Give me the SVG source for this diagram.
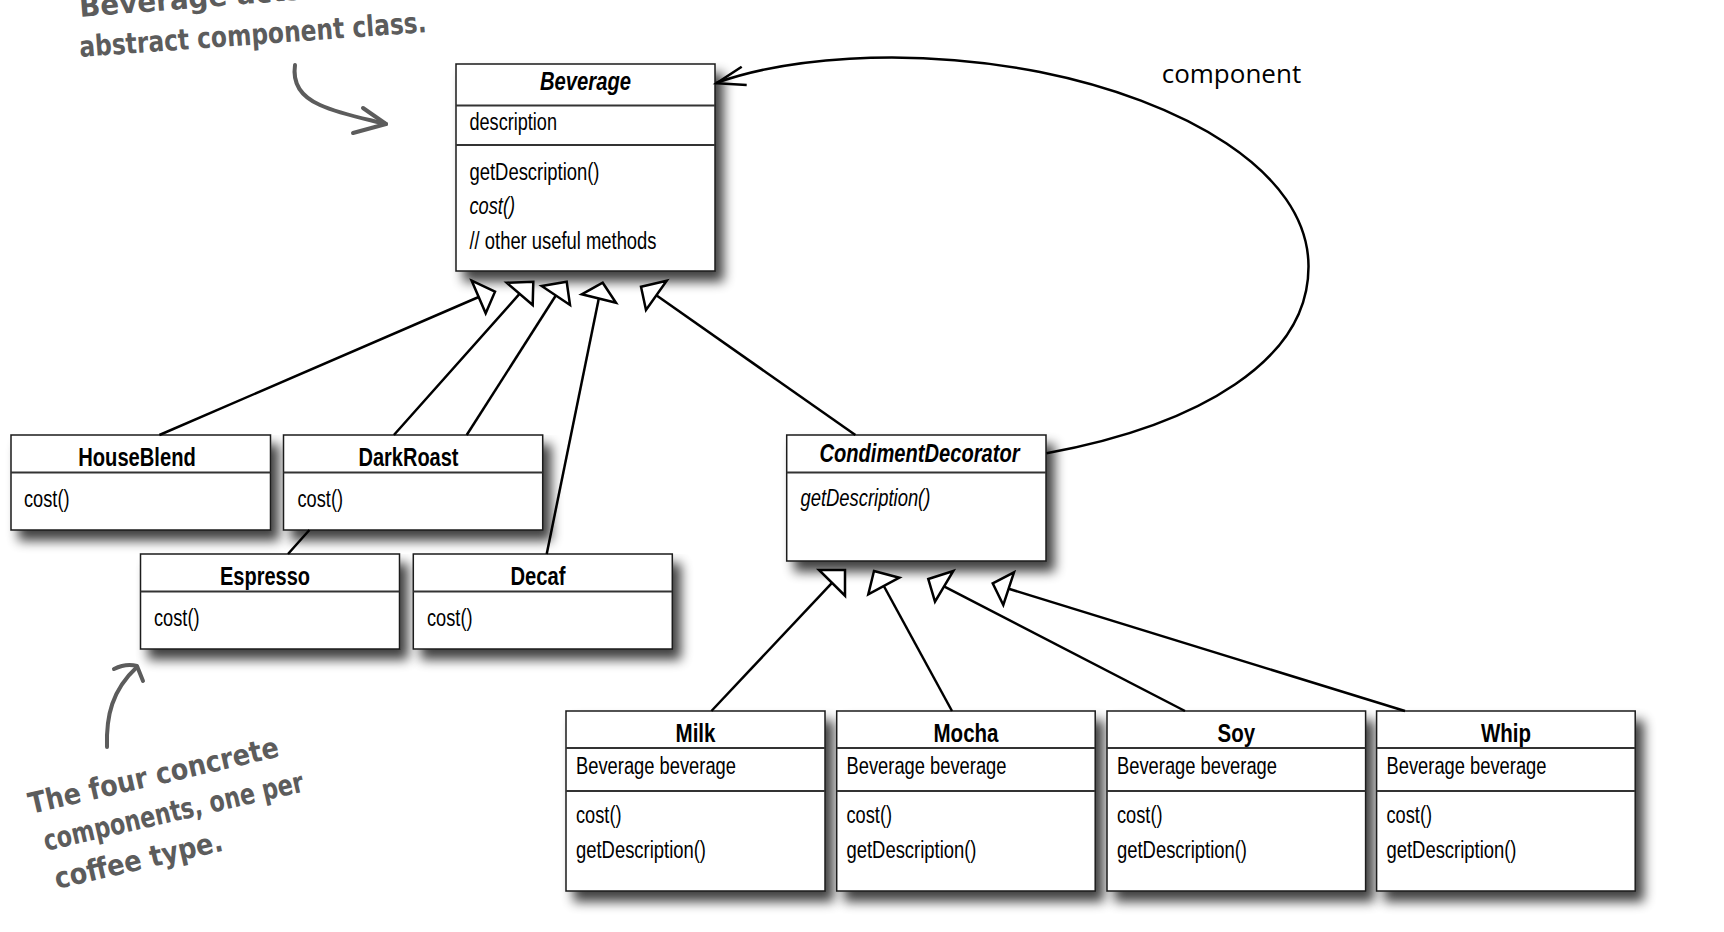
<svg xmlns="http://www.w3.org/2000/svg" width="1724" height="932" viewBox="0 0 1724 932">
<style>
.box{fill:#fff;stroke:#1a1a1a;stroke-width:1.5}
.div{stroke:#333;stroke-width:2;fill:none}
.t{font-family:"Liberation Sans",Arial,sans-serif;font-size:23.5px;fill:#000}
.h{font-family:"Liberation Sans",Arial,sans-serif;font-size:25.5px;font-weight:bold;fill:#000;text-anchor:middle}
.i{font-style:italic}
.ln{stroke:#000;stroke-width:2.5;fill:none}
.tri{fill:#fff;stroke:#000;stroke-width:2.5;stroke-linejoin:miter}
.hand{font-family:"DejaVu Sans",sans-serif;font-weight:bold;fill:#5c5c5c;font-size:29px}
.hl{stroke:#5c5c5c;stroke-width:4;fill:none;stroke-linecap:round;stroke-linejoin:round}
</style>
<defs>
<filter id="sh" x="-10%" y="-10%" width="130%" height="140%">
<feGaussianBlur in="SourceAlpha" stdDeviation="6"/>
<feOffset dx="8" dy="10"/>
<feComponentTransfer><feFuncA type="linear" slope="0.75"/></feComponentTransfer>
<feMerge><feMergeNode/><feMergeNode in="SourceGraphic"/></feMerge>
</filter>
</defs>

<g id="annotations">
<text class="hand" transform="translate(80,17) rotate(-4.5)" textLength="330" lengthAdjust="spacingAndGlyphs">Beverage acts as our</text>
<text class="hand" transform="translate(80,57) rotate(-4.1)" textLength="348" lengthAdjust="spacingAndGlyphs">abstract component class.</text>
<path class="hl" d="M295,65 C292,86 304,98 320,105 C340,114 362,118 386,124"/>
<path class="hl" d="M363,108 L386,124 L353,133"/>
<text class="hand" transform="translate(31,814) rotate(-13)" textLength="256" lengthAdjust="spacingAndGlyphs">The four concrete</text>
<text class="hand" transform="translate(46,851) rotate(-13)" textLength="266" lengthAdjust="spacingAndGlyphs">components, one per</text>
<text class="hand" transform="translate(57,889) rotate(-13)" textLength="172" lengthAdjust="spacingAndGlyphs">coffee type.</text>
<path class="hl" d="M107,747 C106,716 112,690 137,667"/>
<path class="hl" d="M114,669 Q126,663 137,666 L143,681"/>
</g>

<g id="Beverage">
<rect class="box" x="456" y="64" width="259" height="207" filter="url(#sh)"/>
<line class="div" x1="456" y1="105.5" x2="715" y2="105.5"/>
<line class="div" x1="456" y1="145" x2="715" y2="145"/>
<text class="h i" x="585.5" y="90" textLength="91" lengthAdjust="spacingAndGlyphs">Beverage</text>
<text class="t" x="469.5" y="130" textLength="87.5" lengthAdjust="spacingAndGlyphs">description</text>
<text class="t" x="469.5" y="180" textLength="130" lengthAdjust="spacingAndGlyphs">getDescription()</text>
<text class="t i" x="469.5" y="214" textLength="45.5" lengthAdjust="spacingAndGlyphs">cost()</text>
<text class="t" x="469.5" y="249" textLength="187" lengthAdjust="spacingAndGlyphs">// other useful methods</text>
</g>

<g id="HouseBlend">
<rect class="box" x="11" y="435" width="259.5" height="95" filter="url(#sh)"/>
<line class="div" x1="11" y1="472.5" x2="270.5" y2="472.5"/>
<text class="h" x="137" y="466" textLength="117.5" lengthAdjust="spacingAndGlyphs">HouseBlend</text>
<text class="t" x="24" y="507" textLength="45.5" lengthAdjust="spacingAndGlyphs">cost()</text>
</g>

<g id="DarkRoast">
<rect class="box" x="283.5" y="435" width="259.2" height="95" filter="url(#sh)"/>
<line class="div" x1="283.5" y1="472.5" x2="542.7" y2="472.5"/>
<text class="h" x="408.5" y="466" textLength="100" lengthAdjust="spacingAndGlyphs">DarkRoast</text>
<text class="t" x="297.5" y="507" textLength="45.5" lengthAdjust="spacingAndGlyphs">cost()</text>
</g>

<g id="Espresso">
<rect class="box" x="140.5" y="554" width="259" height="95" filter="url(#sh)"/>
<line class="div" x1="140.5" y1="591.5" x2="399.5" y2="591.5"/>
<text class="h" x="265" y="585" textLength="90" lengthAdjust="spacingAndGlyphs">Espresso</text>
<text class="t" x="154" y="626" textLength="45.5" lengthAdjust="spacingAndGlyphs">cost()</text>
</g>

<g id="Decaf">
<rect class="box" x="413.3" y="554" width="259" height="95" filter="url(#sh)"/>
<line class="div" x1="413.3" y1="591.5" x2="672.3" y2="591.5"/>
<text class="h" x="538" y="585" textLength="55" lengthAdjust="spacingAndGlyphs">Decaf</text>
<text class="t" x="427" y="626" textLength="45.5" lengthAdjust="spacingAndGlyphs">cost()</text>
</g>

<g id="CondimentDecorator">
<rect class="box" x="786.7" y="435" width="259.3" height="126" filter="url(#sh)"/>
<line class="div" x1="786.7" y1="472.5" x2="1046" y2="472.5"/>
<text class="h i" x="919.5" y="462" textLength="200" lengthAdjust="spacingAndGlyphs">CondimentDecorator</text>
<text class="t i" x="800.4" y="506" textLength="130" lengthAdjust="spacingAndGlyphs">getDescription()</text>
</g>

<g id="Milk">
<rect class="box" x="566" y="711" width="259" height="180" filter="url(#sh)"/>
<line class="div" x1="566" y1="748" x2="825" y2="748"/>
<line class="div" x1="566" y1="791" x2="825" y2="791"/>
<text class="h" x="695.5" y="742" textLength="40" lengthAdjust="spacingAndGlyphs">Milk</text>
<text class="t" x="576" y="774" textLength="160" lengthAdjust="spacingAndGlyphs">Beverage beverage</text>
<text class="t" x="576" y="823" textLength="45.5" lengthAdjust="spacingAndGlyphs">cost()</text>
<text class="t" x="576" y="858" textLength="130" lengthAdjust="spacingAndGlyphs">getDescription()</text>
</g>

<g id="Mocha">
<rect class="box" x="836.7" y="711" width="258.5" height="180" filter="url(#sh)"/>
<line class="div" x1="836.7" y1="748" x2="1095.2" y2="748"/>
<line class="div" x1="836.7" y1="791" x2="1095.2" y2="791"/>
<text class="h" x="966" y="742" textLength="65" lengthAdjust="spacingAndGlyphs">Mocha</text>
<text class="t" x="846.5" y="774" textLength="160" lengthAdjust="spacingAndGlyphs">Beverage beverage</text>
<text class="t" x="846.5" y="823" textLength="45.5" lengthAdjust="spacingAndGlyphs">cost()</text>
<text class="t" x="846.5" y="858" textLength="130" lengthAdjust="spacingAndGlyphs">getDescription()</text>
</g>

<g id="Soy">
<rect class="box" x="1107" y="711" width="258.6" height="180" filter="url(#sh)"/>
<line class="div" x1="1107" y1="748" x2="1365.6" y2="748"/>
<line class="div" x1="1107" y1="791" x2="1365.6" y2="791"/>
<text class="h" x="1236.3" y="742" textLength="37.5" lengthAdjust="spacingAndGlyphs">Soy</text>
<text class="t" x="1117" y="774" textLength="160" lengthAdjust="spacingAndGlyphs">Beverage beverage</text>
<text class="t" x="1117" y="823" textLength="45.5" lengthAdjust="spacingAndGlyphs">cost()</text>
<text class="t" x="1117" y="858" textLength="130" lengthAdjust="spacingAndGlyphs">getDescription()</text>
</g>

<g id="Whip">
<rect class="box" x="1376.6" y="711" width="258.6" height="180" filter="url(#sh)"/>
<line class="div" x1="1376.6" y1="748" x2="1635.2" y2="748"/>
<line class="div" x1="1376.6" y1="791" x2="1635.2" y2="791"/>
<text class="h" x="1506" y="742" textLength="50" lengthAdjust="spacingAndGlyphs">Whip</text>
<text class="t" x="1386.5" y="774" textLength="160" lengthAdjust="spacingAndGlyphs">Beverage beverage</text>
<text class="t" x="1386.5" y="823" textLength="45.5" lengthAdjust="spacingAndGlyphs">cost()</text>
<text class="t" x="1386.5" y="858" textLength="130" lengthAdjust="spacingAndGlyphs">getDescription()</text>
</g>

<g id="connectors">
<path class="ln" d="M159.4,435 L478.7,297"/>
<polygon class="tri" points="471.7,280.7 495,291.7 485.7,313.3"/>
<path class="ln" d="M288,554 L309.4,530 M393.9,435 L519.7,293.7"/>
<polygon class="tri" points="506.7,282.7 533.3,281.7 532.7,305"/>
<path class="ln" d="M466.7,435 L555.8,295.5"/>
<polygon class="tri" points="541.7,286 566.7,281.7 570,305"/>
<path class="ln" d="M546.7,554 L598.8,298.5"/>
<polygon class="tri" points="581.7,294.3 602.7,282.7 616,302.7"/>
<path class="ln" d="M855.4,435 L656.3,295.3"/>
<polygon class="tri" points="641,286.7 666.7,280.7 646,310"/>

<path class="ln" d="M711.4,711 L832,582.8"/>
<polygon class="tri" points="819,570 845,570 845,595.7"/>
<path class="ln" d="M952,711 L883.8,586"/>
<polygon class="tri" points="874,571 899.3,577.7 868.3,594.3"/>
<path class="ln" d="M1185,711 L944,586.3"/>
<polygon class="tri" points="928.3,579 953.3,571 935,601.7"/>
<path class="ln" d="M1405,711 L1008.7,588.7"/>
<polygon class="tri" points="992.7,583.3 1014,572.3 1003.3,605"/>

<path class="ln" d="M1046.5,453.3 C1200,425 1309,360 1308.5,266 C1308,170 1180,100 1040,72 C900,45 780,60 716,83"/>
<path class="ln" d="M741.7,66.7 L716.5,83.3 L746.7,85"/>
<text x="1161.7" y="83.3" style="font-family:'Open Sans','DejaVu Sans',sans-serif;font-size:26px;fill:#000">component</text>
</g>
</svg>
